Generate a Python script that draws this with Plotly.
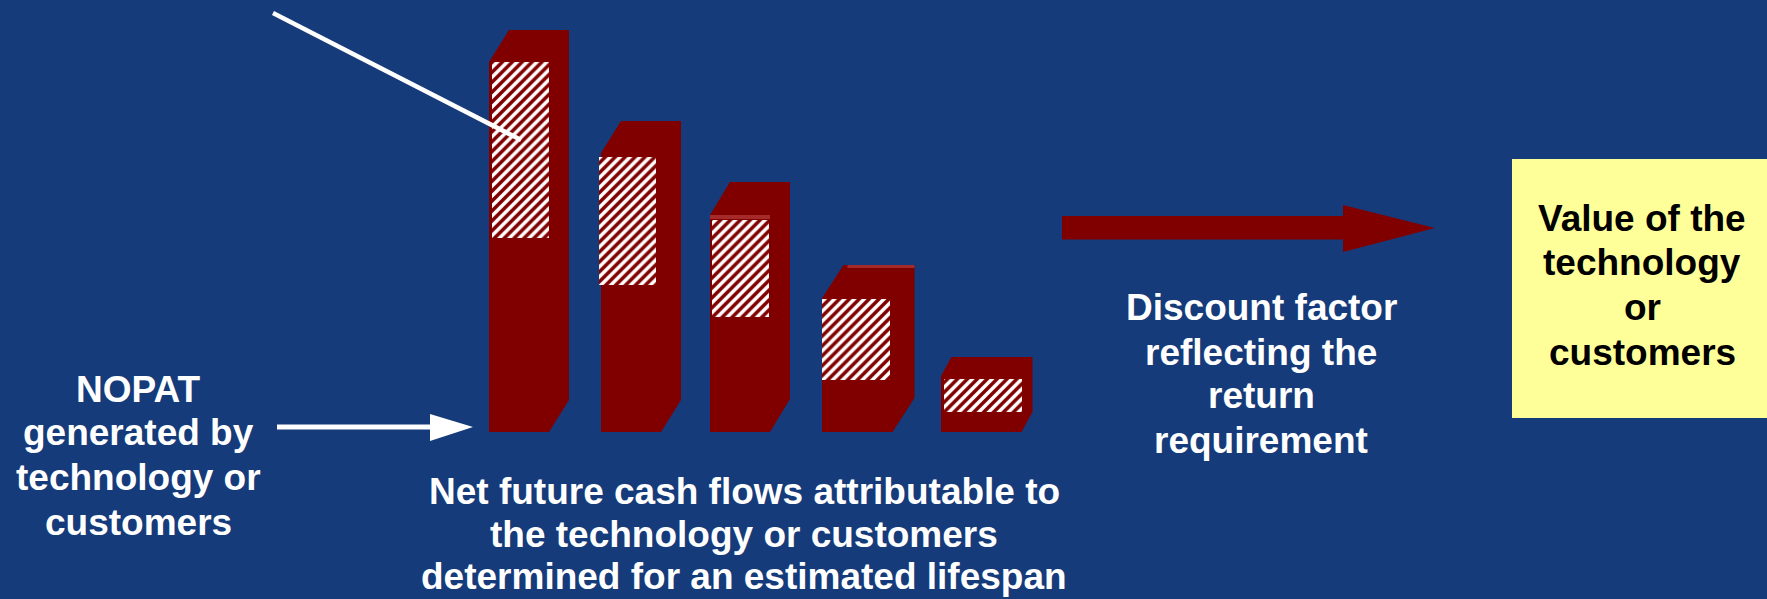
import plotly.graph_objects as go

# ---------------- data ----------------
periods = ["Year 1", "Year 2", "Year 3", "Year 4", "Year 5"]
cash_flow = [370, 279, 217, 133, 55]        # total net cash flow per period
hatch_top = [370, 275, 212, 133, 53]        # hatched (discounted) portion, top
hatch_bottom = [194, 147, 115, 52, 20]      # hatched portion, bottom

nopat_lines = ["NOPAT", "generated by", "technology or", "customers"]
bottom_lines = ["Net future cash flows attributable to",
                "the technology or customers",
                "determined for an estimated lifespan"]
discount_lines = ["Discount factor", "reflecting the", "return", "requirement"]
value_lines = ["Value of the", "technology", "or", "customers"]

# ---------------- layout / style ----------------
W, H = 1767, 599
BASE = 432                       # pixel row of the bar baseline
bar_center = [519, 631, 740, 857, 981]
bar_width = [60, 60, 60, 71, 81]
hatch_shift = [1, -4, 0, -1, 2]
depth_dx = [20, 20, 20, 22, 11]
depth_dy = [32, 32, 33, 34, 20]

NAVY = "#163B7A"
RED = "#800000"
LIGHTRED = "#A52A2A"
YELLOW = "#FFFF99"
FONT = "Liberation Sans, Arial, sans-serif"


def Y(py):
    """convert a pixel row to the y axis value"""
    return BASE - py


fig = go.Figure()

# front faces of the bars
fig.add_trace(go.Bar(
    x=bar_center, y=cash_flow, width=bar_width,
    marker=dict(color=RED, line=dict(width=0)),
    hoverinfo="skip", showlegend=False, text=periods, textposition="none",
))

# hatched portions
fig.add_trace(go.Bar(
    x=[c + s for c, s in zip(bar_center, hatch_shift)],
    y=[t - b for t, b in zip(hatch_top, hatch_bottom)],
    base=hatch_bottom,
    width=[w - 3 for w in bar_width],
    marker=dict(color="white", line=dict(width=0),
                pattern=dict(shape="/", fgcolor=RED, bgcolor="white",
                             size=7, solidity=0.5, fillmode="replace")),
    hoverinfo="skip", showlegend=False,
))

shapes = []
# 3D top + side faces built from the bar values
for i, v in enumerate(cash_flow):
    c, w, dx, dy = bar_center[i], bar_width[i], depth_dx[i], depth_dy[i]
    xl, xr = c - w / 2, c + w / 2
    path = (f"M {xl},{v} L {xl+dx},{v+dy} L {xr+dx},{v+dy} "
            f"L {xr+dx},{dy} L {xr},0 L {xr},{v} Z")
    shapes.append(dict(type="path", path=path, xref="x", yref="y",
                       fillcolor=RED, line=dict(width=0), layer="below"))
    if i == 2:   # light edge along the front top
        shapes.append(dict(type="rect", xref="x", yref="y",
                           x0=xl, x1=xr, y0=v - 4, y1=v,
                           fillcolor=LIGHTRED, line=dict(width=0)))
    if i == 3:   # light edge along the back top
        shapes.append(dict(type="rect", xref="x", yref="y",
                           x0=xl + dx + 4, x1=xr + dx, y0=v + dy - 3, y1=v + dy,
                           fillcolor=LIGHTRED, line=dict(width=0)))

# thin white pointer line (top left)
shapes.append(dict(type="line", xref="x", yref="y",
                   x0=273, y0=Y(13), x1=521, y1=Y(140),
                   line=dict(color="white", width=4.5)))

# NOPAT arrow (white)
shapes.append(dict(type="path", xref="x", yref="y",
                   path=(f"M 277,{Y(424.5)} L 430,{Y(424.5)} L 430,{Y(414)} "
                         f"L 473,{Y(427)} L 430,{Y(441)} L 430,{Y(429.5)} "
                         f"L 277,{Y(429.5)} Z"),
                   fillcolor="white", line=dict(width=0)))

# big dark red arrow
shapes.append(dict(type="path", xref="x", yref="y",
                   path=(f"M 1062,{Y(216)} L 1343,{Y(216)} L 1343,{Y(205)} "
                         f"L 1435,{Y(228)} L 1343,{Y(252)} L 1343,{Y(239.5)} "
                         f"L 1062,{Y(239.5)} Z"),
                   fillcolor=RED, line=dict(width=0)))

# yellow value box
shapes.append(dict(type="rect", xref="x", yref="y",
                   x0=1512, x1=1790, y0=Y(418), y1=Y(159),
                   fillcolor=YELLOW, line=dict(width=0), layer="below"))

annotations = []


def add_lines(lines, cx, centers, color):
    for t, cy in zip(lines, centers):
        annotations.append(dict(
            x=cx, y=Y(cy), xref="x", yref="y", text=f"<b>{t}</b>",
            showarrow=False, xanchor="center", yanchor="middle",
            font=dict(family=FONT, size=37, color=color)))


add_lines(nopat_lines, 138, [389, 432, 477, 522], "white")
add_lines(bottom_lines, 744, [491, 534, 576], "white")
add_lines(discount_lines, 1261, [307, 352, 395, 440], "white")
add_lines(value_lines, 1642, [218, 262, 307, 352], "black")

fig.update_layout(
    width=W, height=H, autosize=False,
    margin=dict(l=0, r=0, t=0, b=0, pad=0),
    paper_bgcolor=NAVY, plot_bgcolor=NAVY,
    barmode="overlay", bargap=0,
    xaxis=dict(range=[0, W], visible=False, fixedrange=True),
    yaxis=dict(range=[BASE - H, BASE], visible=False, fixedrange=True),
    shapes=shapes, annotations=annotations,
    showlegend=False,
)

fig.write_html("out.html", config=dict(displayModeBar=False))
